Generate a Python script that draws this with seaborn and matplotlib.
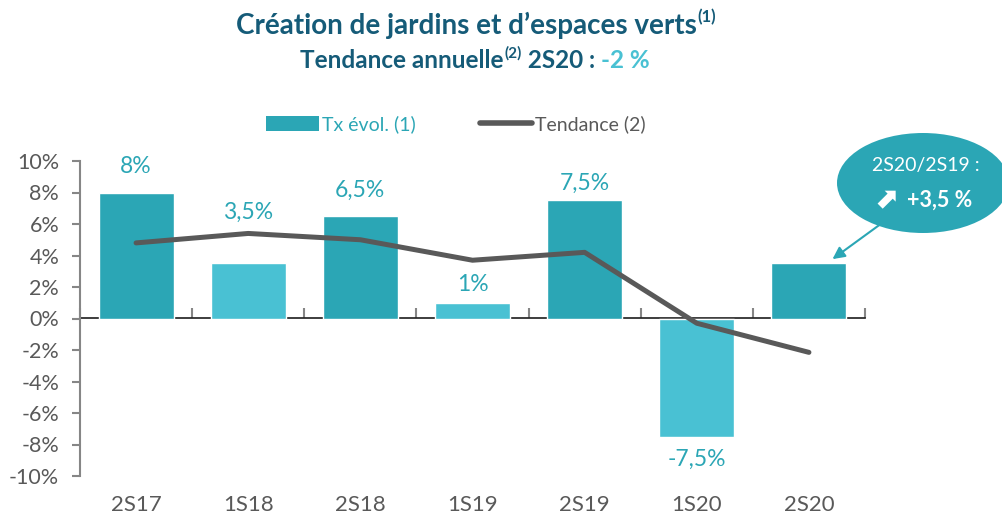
import numpy as np
import pandas as pd
import matplotlib
matplotlib.use("Agg")
import matplotlib.pyplot as plt
import seaborn as sns
from matplotlib.patches import Patch, Ellipse
from matplotlib.lines import Line2D

# data
periods = ["2S17", "1S18", "2S18", "1S19", "2S19", "1S20", "2S20"]
tx_evol = [8.0, 3.5, 6.5, 1.0, 7.5, -7.5, 3.5]
tendance = [4.8, 5.4, 5.0, 3.7, 4.2, -0.3, -2.15]
bar_labels = ["8%", "3,5%", "6,5%", "1%", "7,5%", "-7,5%", ""]
# distance (px) of each label centre from the bar end, as placed in the original
label_gap = [26, 51, 26, 18, 17, 23, 0]
y_ticks = [-10, -8, -6, -4, -2, 0, 2, 4, 6, 8, 10]

dark_teal = "#2BA6B5"
light_teal = "#49C1D3"
title_blue = "#155B78"
grey = "#595959"
axis_grey = "#868686"

sns.set_theme(style="white")
plt.rcParams["font.family"] = ["Lato", "DejaVu Sans"]

df = pd.DataFrame({"period": periods, "tx": tx_evol, "trend": tendance})
colors = {p: (dark_teal if p.startswith("2S") else light_teal) for p in periods}

fig = plt.figure(figsize=(10.03, 5.14), dpi=100)
ax = fig.add_axes([80 / 1003, 38 / 514, 785 / 1003, 315 / 514])

sns.barplot(data=df, x="period", y="tx", hue="period", palette=colors,
            width=0.67, saturation=1, legend=False, ax=ax)
sns.lineplot(data=df, x="period", y="trend", color=grey, linewidth=3.6,
             sort=False, ax=ax)

ax.set_ylim(-10, 10)
ax.set_xlim(-0.5, len(periods) - 0.5)
ax.set_xlabel("")
ax.set_ylabel("")
ax.set_yticks(y_ticks)
ax.set_yticklabels([f"{v}%" for v in y_ticks])
ax.tick_params(axis="y", left=True, length=6, width=1.5, color=axis_grey,
               labelsize=15.5, labelcolor=grey, pad=9)
ax.tick_params(axis="x", bottom=False, length=0, labelsize=16,
               labelcolor=grey, pad=14)
for s in ["top", "right", "bottom"]:
    ax.spines[s].set_visible(False)
ax.spines["left"].set_color(axis_grey)
ax.spines["left"].set_linewidth(1.5)

# zero line with category boundary ticks
sec = ax.secondary_xaxis(0.5)
sec.set_xticks(np.arange(-0.5, len(periods), 1.0))
sec.set_xticklabels([])
sec.tick_params(direction="out", length=7, width=1.5, color=axis_grey)
sec.spines["bottom"].set_color(axis_grey)
sec.spines["bottom"].set_linewidth(2)

# value labels
for i, (v, lab, gap) in enumerate(zip(tx_evol, bar_labels, label_gap)):
    if not lab:
        continue
    sign = 1 if v >= 0 else -1
    ax.annotate(lab, (i, v), xytext=(0, sign * gap * 0.72),
                textcoords="offset points", ha="center", va="center",
                fontsize=16.5, color=dark_teal)

# legend
handles = [Patch(facecolor=dark_teal, edgecolor="none"),
           Line2D([0], [0], color=grey, linewidth=4, solid_capstyle="round")]
fig.legend(handles, ["Tx évol. (1)", "Tendance (2)"], loc="center",
           bbox_to_anchor=(456 / 1003, 1 - 124 / 514), ncol=2, frameon=False,
           fontsize=14, handlelength=2.7, handleheight=0.8, handletextpad=0.15,
           columnspacing=3.3, labelcolor=[dark_teal, grey])

# bubble callout
bubble = Ellipse((923 / 1003, 1 - 183 / 514), 172 / 1003, 100 / 514,
                 transform=fig.transFigure, facecolor=dark_teal,
                 edgecolor="none", zorder=5)
fig.patches.append(bubble)
fig.text(926 / 1003, 1 - 166 / 514, "2S20/2S19 :", ha="center", va="center",
         color="white", fontsize=14, zorder=6)
fig.text(940 / 1003, 1 - 200 / 514, "+3,5 %", ha="center", va="center",
         color="white", fontsize=15.5, fontweight="bold", zorder=6)
fig.text(886 / 1003, 1 - 200 / 514, "⬈", ha="center", va="center",
         color="white", fontsize=21, fontweight="bold", zorder=6,
         family=["DejaVu Sans"])
ax.annotate("", xy=(6.21, 3.77), xytext=(6.64, 6.0),
            arrowprops=dict(arrowstyle="-|>", color=dark_teal, lw=1.5,
                            mutation_scale=18, shrinkA=0, shrinkB=0),
            annotation_clip=False)

# titles
t1 = fig.text(466 / 1003, 1 - 25 / 514, "Création de jardins et d’espaces verts",
              ha="center", va="center", fontsize=20, fontweight="bold",
              color=title_blue)
ax.annotate("(1)", xy=(1, 1), xycoords=t1, xytext=(1, 2),
            textcoords="offset points", ha="left", va="top", fontsize=12,
            fontweight="bold", color=title_blue, annotation_clip=False)

t2 = fig.text(300 / 1003, 1 - 60 / 514, "Tendance annuelle", ha="left",
              va="center", fontsize=17.5, fontweight="bold", color=title_blue)
s2 = ax.annotate("(2)", xy=(1, 1), xycoords=t2, xytext=(1, 2),
                 textcoords="offset points", ha="left", va="top",
                 fontsize=11, fontweight="bold", color=title_blue,
                 annotation_clip=False)
t3 = ax.annotate(" 2S20 : ", xy=(1, 0), xycoords=(s2, t2), xytext=(0, 0),
                 textcoords="offset points", ha="left", va="bottom",
                 fontsize=17.5, fontweight="bold", color=title_blue,
                 annotation_clip=False)
ax.annotate("-2 %", xy=(1, 0), xycoords=t3, ha="left", va="bottom",
            fontsize=17.5, fontweight="bold", color=light_teal,
            annotation_clip=False)

fig.savefig("out.png", dpi=100)
